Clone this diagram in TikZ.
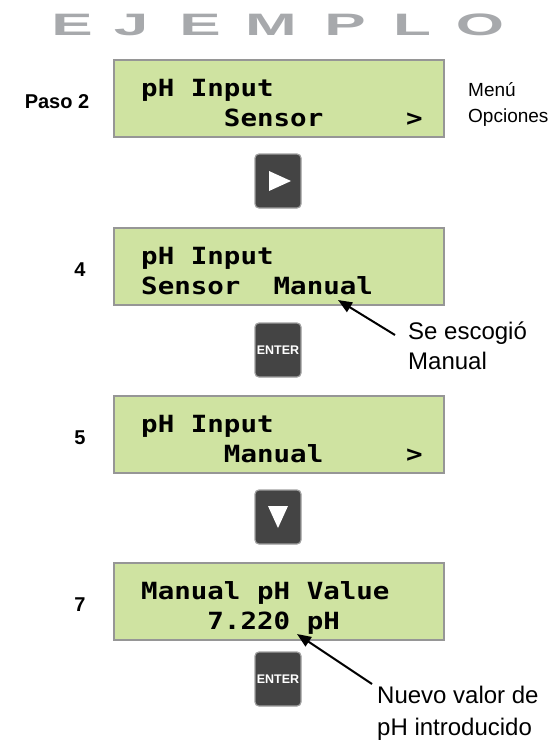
\documentclass[tikz,border=0pt]{standalone}
\usepackage{fontspec}
\setmainfont{Liberation Sans}
\newfontfamily\lcdfont{DejaVu Sans Mono}
\usetikzlibrary{arrows.meta}

\definecolor{lcdgreen}{RGB}{207,227,161}
\definecolor{lcdframe}{RGB}{150,150,150}
\definecolor{keygray}{RGB}{68,68,68}
\definecolor{titlegray}{RGB}{167,169,172}

%% squat LCD characters
\newcommand{\lcdtext}[1]{\scalebox{1}[0.86]{#1}}

\tikzset{
    lcd/.style={draw=lcdframe,line width=2pt,fill=lcdgreen,
        minimum width=330pt,minimum height=77pt,inner sep=0pt},
    lcdline/.style={anchor=base west,inner sep=0pt,
        font=\lcdfont\bfseries\fontsize{27.5}{30}\selectfont},
    key/.style={draw=gray!75,line width=1.2pt,fill=keygray,rounded corners=4pt,
        minimum width=46pt,minimum height=54pt,inner sep=0pt},
    keylabel/.style={text=white,inner sep=0pt,font=\bfseries\fontsize{12.5}{14}\selectfont},
    steplabel/.style={inner sep=0pt,font=\bfseries\fontsize{20}{24}\selectfont},
    note/.style={anchor=north west,align=left,inner sep=0pt},
    pointer/.style={-{Triangle[length=14pt,width=11pt]},line width=2pt},
    title/.style={anchor=base,inner sep=0pt,text=titlegray,
        font=\bfseries\fontsize{31}{31}\selectfont}
}

\begin{document}
\begin{tikzpicture}[x=1pt,y=-1pt]
    \useasboundingbox (0,0) rectangle (548,742);
    %% Heading
    \foreach \c/\x in {E/72,J/131,E/200,M/271,P/345,L/412,O/480}
        \node[title] (head-\x) at (\x,35) {\scalebox{2}[1]{\c}};
    %% Displays
    \foreach \n/\t/\la/\lb in {d1/59/pH~Input/~~~~~Sensor~~~~~>,
                              d2/227/pH~Input/Sensor~~Manual,
                              d3/395/pH~Input/~~~~~Manual~~~~~>,
                              d4/562/Manual~pH~Value/~~~~7.220~pH}
    {
        \node[lcd,anchor=north west] (\n) at (113,\t) {};
        \node[lcdline] (\n-a) at ([shift={(28,37)}]\n.north west) {\lcdtext{\la}};
        \node[lcdline] (\n-b) at ([shift={(28,67)}]\n.north west) {\lcdtext{\lb}};
    }
    %% Steps
    \node[steplabel] (paso) at (57,102) {Paso 2};
    \node[steplabel] (s4) at (80,270) {4};
    \node[steplabel] (s5) at (80,438) {5};
    \node[steplabel] (s7) at (80,605) {7};
    \node[note,font=\fontsize{19}{26}\selectfont] (menu) at (468,82) {Menú\\Opciones};
    %% Keys
    \node[key] (k1) at (278,181) {};
    \fill[white] (k1.center) ++(-9,-10) -- ++(0,20) -- ++(22,-10) -- cycle;
    \node[key] (k2) at (278,350) {};
    \node[keylabel] at (k2) {ENTER};
    \node[key] (k3) at (278,517) {};
    \fill[white] (k3.center) ++(-10,-11) -- ++(20,0) -- ++(-10,22) -- cycle;
    \node[key] (k4) at (278,679) {};
    \node[keylabel] at (k4) {ENTER};
    %% Notes
    \node[note,font=\fontsize{24}{30}\selectfont] (pick) at (408,322) {Se escogió\\Manual};
    \coordinate (pick-tip) at (338,300);
    \draw[pointer] ([shift={(-13,13)}]pick.north west) -- (pick-tip);
    \node[note,font=\fontsize{24}{32}\selectfont] (value) at (377,686) {Nuevo valor de\\pH introducido};
    \coordinate (value-tip) at (297,634);
    \draw[pointer] ([shift={(-5,-2)}]value.north west) -- (value-tip);
\end{tikzpicture}
\end{document}
